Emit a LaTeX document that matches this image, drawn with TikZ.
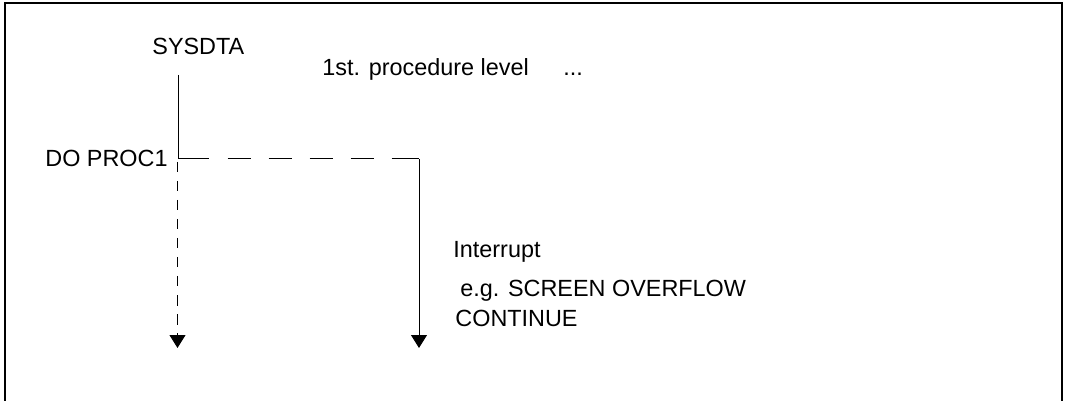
\documentclass[tikz,border=0pt]{standalone}
\usepackage{fontspec}
\setmainfont{Liberation Sans}
\usetikzlibrary{arrows.meta}
\newcommand{\tipcall}{Triangle[length=6.5pt, width=8pt]}
\tikzset{
    txt/.style={anchor=base west, inner sep=0pt, font=\fontsize{11.7pt}{14pt}\selectfont},
    frame/.style={line width=0.7pt},
    flow/.style={line width=0.5pt},
    flowarrow/.style={flow, -{\tipcall}},
    calldash/.style={flow, dash pattern=on 15pt off 9.5pt on 11.5pt off 9pt on 11.5pt off 9pt on 11.5pt off 9pt on 11.5pt off 9pt on 14pt},
    returndash/.style={flowarrow, dash pattern=on 5.25pt off 4.25pt}
}
\begin{document}
\begin{tikzpicture}[x=0.5pt, y=-0.5pt]
    \useasboundingbox (0,0) rectangle (1067,401);
    \draw[frame] (5,401) -- (5,3) -- (1062,3) -- (1062,401);

    % texts
    \node[txt] (sysdta) at (152,55) {SYSDTA};
    \node[txt] (level) at (322,76) {1st. procedure level};
    \node[txt] (dots) at (563,76) {...};
    \node[txt] (doproc) at (45,167) {DO PROC1};
    \node[txt] (interrupt) at (453,257) {Interrupt};
    \node[txt] (overflow) at (460,297) {e.g. SCREEN OVERFLOW};
    \node[txt] (continue) at (455,327) {CONTINUE};

    % connector points
    \coordinate (sysdta-foot) at (178.5,75);
    \coordinate (call) at (178.5,159);
    \coordinate (proc-top) at (419,159);
    \coordinate (proc-end) at (419,348);
    \coordinate (return-top) at (177.5,162);
    \coordinate (return-end) at (177.5,348);

    \draw[flow] (sysdta-foot) -- (call);
    \draw[calldash] (call) -- (proc-top);
    \draw[flowarrow] (proc-top) -- (proc-end);
    \draw[returndash] (return-top) -- (return-end);
\end{tikzpicture}
\end{document}
